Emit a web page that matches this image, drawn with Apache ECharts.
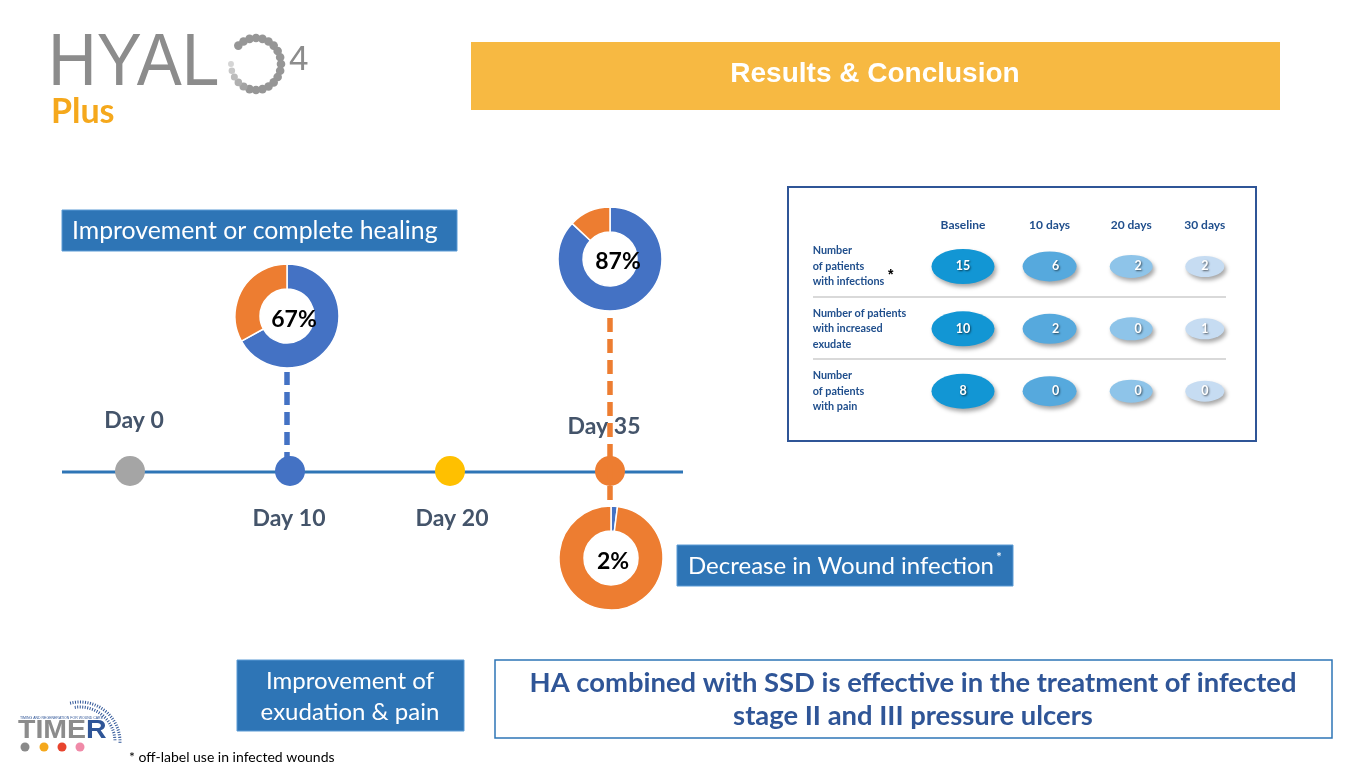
<!DOCTYPE html>
<html>
<head>
<meta charset="utf-8">
<script src="https://cdn.jsdelivr.net/npm/echarts@6/dist/echarts.min.js"></script>
<style>
html,body{margin:0;padding:0;background:#fff;}
#chart{width:1365px;height:768px;}
</style>
</head>
<body>
<div id="chart"></div>
<script>
// ---------- data ----------
const timelineDays = ['Day 0', 'Day 10', 'Day 20', 'Day 35'];
const healingDay10 = [67, 33];      // improvement / no improvement (%)
const healingDay35 = [87, 13];
const infectionDay35 = [2, 98];     // infection / no infection (%)
const tableColumns = ['Baseline', '10 days', '20 days', '30 days'];
const tableRows = ['Number\nof patients\nwith infections', 'Number of patients\nwith increased\nexudate', 'Number\nof patients\nwith pain'];
const patientsInfections = [15, 6, 2, 2];
const patientsExudate = [10, 2, 0, 1];
const patientsPain = [8, 0, 0, 0];

// ---------- styles ----------
const dotColors = ['#a5a5a5', '#4472c4', '#ffc000', '#ed7d31'];
const labelSide = ['top', 'bottom', 'bottom', 'top'];
const labelShift = [[4, 0], [-1, 1], [2, 1], [-6, 6]];
const bubbleColors = ['#1296d4', '#56a9dd', '#8ec4e9', '#c6dcf2'];
const bubbleSizes = [[63, 35], [54, 30], [43, 23], [39, 21]];
const colOffsets = [0, 6, 7, 0];
const donutColors = ['#4472c4', '#ed7d31'];
const navy = '#1f4e8c';

const chart = echarts.init(document.getElementById('chart'), null, {renderer: 'canvas'});

const tableSeries = [patientsInfections, patientsExudate, patientsPain];
const bubbleData = [];
tableSeries.forEach((row, r) => row.forEach((v, c) => {
  bubbleData.push({
    value: [c, r, v],
    symbolSize: bubbleSizes[c],
    symbolOffset: [colOffsets[c], 0],
    itemStyle: {color: bubbleColors[c]},
    label: {offset: [colOffsets[c], 0]}
  });
}));

function donut(values, center, labelOffset) {
  return {
    type: 'pie', radius: [27, 52], center: center, startAngle: 90, clockwise: true,
    silent: true, animation: false,
    itemStyle: {borderColor: '#fff', borderWidth: 1.5},
    labelLine: {show: false},
    data: values.map((v, i) => ({
      value: v,
      itemStyle: {color: donutColors[i]},
      label: i === 0 ? {show: true, position: 'center', formatter: v + '%', offset: labelOffset,
        fontFamily: 'Lato', fontWeight: 'bold', fontSize: 23, color: '#000'} : {show: false}
    }))
  };
}

// logo ring dots
const logoDots = [];
const N = 22;
for (let i = 0; i < N; i++) {
  const a = (135 - i * (330 / N)) * Math.PI / 180;
  const fade = i > N - 6 ? (i - (N - 6)) / 6 : 0;
  const g = Math.round(150 + fade * 75);
  logoDots.push({
    type: 'circle',
    shape: {cx: 256 + 25 * Math.cos(a), cy: 64 - 26 * Math.sin(a), r: 4.3 - fade * 1.6},
    style: {fill: 'rgb(' + g + ',' + g + ',' + g + ')'}
  });
}

function txt(text, x, y, font, fill, align, vAlign, extra) {
  return Object.assign({
    type: 'text', z: 20,
    style: {text: text, x: x, y: y, font: font, fill: fill,
      align: align || 'left', textAlign: align || 'left',
      verticalAlign: vAlign || 'middle', textVerticalAlign: vAlign || 'middle'}
  }, extra || {});
}

const graphics = [
  // HYAL4 Plus logo
  txt('HYAL', 48, 64, '75px "Liberation Sans"', '#8c8c8c', 'left', 'middle', {scaleX: 0.9, scaleY: 1, originX: 48, originY: 64}),
  ...logoDots,
  txt('4', 289, 60, '35px "Liberation Sans"', '#8c8c8c'),
  txt('Plus', 51, 112, 'bold 34px Lato', '#f5a81c'),
  // title box
  {type: 'rect', shape: {x: 471, y: 42, width: 809, height: 68}, style: {fill: '#f7b942'}},
  txt('Results & Conclusion', 875, 74, 'bold 28px "Liberation Sans"', '#ffffff', 'center'),
  // blue label boxes
  {type: 'rect', shape: {x: 62, y: 210, width: 395, height: 41}, style: {fill: '#2e75b6', stroke: '#5b9bd5', lineWidth: 1}},
  txt('Improvement or complete healing', 72, 231, '24.8px Lato', '#ffffff'),
  {type: 'rect', shape: {x: 677, y: 545, width: 336, height: 41}, style: {fill: '#2e75b6', stroke: '#5b9bd5', lineWidth: 1}},
  txt('Decrease in Wound infection', 688, 566, '24px Lato', '#ffffff'),
  txt('*', 996, 557, '14px Lato', '#ffffff'),
  {type: 'rect', shape: {x: 237, y: 660, width: 227, height: 71}, style: {fill: '#2e75b6', stroke: '#5b9bd5', lineWidth: 1}},
  txt('Improvement of', 350, 681, '24px Lato', '#ffffff', 'center'),
  txt('exudation & pain', 350, 712, '24px Lato', '#ffffff', 'center'),
  // conclusion box
  {type: 'rect', shape: {x: 495, y: 660, width: 837, height: 78}, style: {fill: '#ffffff', stroke: '#2e75b6', lineWidth: 1.5}},
  txt('HA combined with SSD is effective in the treatment of infected', 913, 683, 'bold 27.4px Lato', '#2f5597', 'center'),
  txt('stage II and III pressure ulcers', 913, 716, 'bold 27.4px Lato', '#2f5597', 'center'),
  // footnote
  txt('* off-label use in infected wounds', 129, 757, '14px Lato', '#000000'),
  // timeline base line
  {type: 'line', z: 1, shape: {x1: 62, y1: 472, x2: 683, y2: 472}, style: {stroke: '#2e75b6', lineWidth: 3}},
  // dashed connectors
  {type: 'line', z: 30, shape: {x1: 287, y1: 372, x2: 287, y2: 458}, style: {stroke: '#4472c4', lineWidth: 5.5, lineDash: [13, 7]}},
  {type: 'line', z: 30, shape: {x1: 610, y1: 318, x2: 610, y2: 505}, style: {stroke: '#ed7d31', lineWidth: 5.5, lineDash: [14, 7]}},
  // table panel
  {type: 'rect', shape: {x: 788, y: 187, width: 468, height: 254}, style: {fill: 'none', stroke: '#2f5597', lineWidth: 2}},
  {type: 'line', shape: {x1: 813, y1: 297, x2: 1226, y2: 297}, style: {stroke: '#d9d9d9', lineWidth: 2}},
  {type: 'line', shape: {x1: 813, y1: 359, x2: 1226, y2: 359}, style: {stroke: '#d9d9d9', lineWidth: 2}},
  txt('*', 888, 275, 'bold 14px "Liberation Sans"', '#000000'),
  // TIMER logo
  {type: 'arc', shape: {cx: 80, cy: 742, r: 40, startAngle: -Math.PI / 2 - 0.25, endAngle: 0.05}, style: {fill: 'none', stroke: '#2f5597', lineWidth: 3, lineDash: [1, 1.5]}},
  {type: 'arc', shape: {cx: 80, cy: 742, r: 35, startAngle: -Math.PI / 2 - 0.15, endAngle: -0.05}, style: {fill: 'none', stroke: '#2f5597', lineWidth: 3, lineDash: [1, 1.5]}},
  txt('TIMING AND REGENERATION FOR WOUND CARE', 20, 718, '3.5px "Liberation Sans"', '#2f5597'),
  {type: 'text', z: 20, scaleX: 1.14, originX: 18, originY: 731,
    style: {text: '{a|TIME}{b|R}', x: 18, y: 731, align: 'left', textAlign: 'left', verticalAlign: 'middle', textVerticalAlign: 'middle',
      rich: {a: {fill: '#8c8c8c', color: '#8c8c8c', font: 'bold 25px "Liberation Sans"'},
             b: {fill: '#2f5597', color: '#2f5597', font: 'bold 25px "Liberation Sans"'}}}},
  {type: 'circle', shape: {cx: 25, cy: 747, r: 4.5}, style: {fill: '#8a8a8a'}},
  {type: 'circle', shape: {cx: 44, cy: 747, r: 4.5}, style: {fill: '#f5a81c'}},
  {type: 'circle', shape: {cx: 62, cy: 747, r: 4.5}, style: {fill: '#e8442e'}},
  {type: 'circle', shape: {cx: 80, cy: 747, r: 4.5}, style: {fill: '#f08aa8'}}
];

const option = {
  backgroundColor: '#ffffff',
  animation: false,
  graphic: graphics,
  grid: [
    {left: 50, width: 640, top: 421, height: 100},
    {left: 922.7, width: 322.4, top: 235.3, height: 187}
  ],
  xAxis: [
    {gridIndex: 0, type: 'category', data: timelineDays, boundaryGap: true, show: false},
    {gridIndex: 1, type: 'category', data: tableColumns, position: 'top', boundaryGap: true,
      axisLine: {show: false}, axisTick: {show: false}, splitLine: {show: false},
      axisLabel: {interval: 0, margin: 4, fontFamily: 'Lato', fontWeight: 'bold', fontSize: 12, color: navy,
        formatter: function (v, i) { return '{c' + i + '|' + v + '}'; },
        rich: {c0: {padding: [0, 0, 0, 0]}, c1: {padding: [0, 0, 0, 12]}, c2: {padding: [0, 0, 0, 14]}, c3: {padding: [0, 0, 0, 0]}}}}
  ],
  yAxis: [
    {gridIndex: 0, type: 'value', min: -1, max: 1, show: false},
    {gridIndex: 1, type: 'category', data: tableRows, inverse: true, boundaryGap: true,
      axisLine: {show: false}, axisTick: {show: false}, splitLine: {show: false},
      axisLabel: {interval: 0, align: 'left', margin: 110, fontFamily: 'Lato', fontWeight: 'bold', fontSize: 10.8,
        lineHeight: 15.5, color: navy}}
  ],
  series: [
    {
      type: 'scatter', xAxisIndex: 0, yAxisIndex: 0, symbolSize: 30, z: 5,
      itemStyle: {opacity: 1},
      data: timelineDays.map((d, i) => ({
        value: [d, 0],
        itemStyle: {color: dotColors[i], opacity: 1},
        label: {show: true, position: labelSide[i], distance: labelSide[i] === 'top' ? 24 : 20,
          offset: labelShift[i],
          formatter: d, fontFamily: 'Lato', fontWeight: 'bold', fontSize: 23, color: '#44546a'}
      }))
    },
    donut(healingDay10, [287, 316], [7, 4]),
    donut(healingDay35, [610, 259], [8, 3]),
    donut(infectionDay35, [611, 558], [2, 4]),
    {
      type: 'scatter', xAxisIndex: 1, yAxisIndex: 1, z: 5,
      symbol: 'circle',
      itemStyle: {opacity: 1, shadowBlur: 4, shadowColor: 'rgba(0,0,0,0.35)', shadowOffsetX: 2, shadowOffsetY: 3},
      label: {show: true, position: 'inside', formatter: p => p.value[2],
        fontFamily: 'Lato', fontWeight: 'bold', fontSize: 12.5, color: '#ffffff',
        textShadowColor: 'rgba(0,0,0,0.6)', textShadowBlur: 2, textShadowOffsetX: 1, textShadowOffsetY: 1},
      data: bubbleData
    }
  ]
};
chart.setOption(option);
</script>
</body>
</html>
